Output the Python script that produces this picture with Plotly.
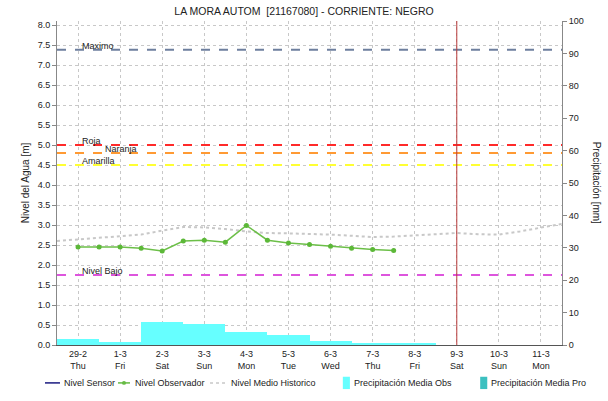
import plotly.graph_objects as go

FONT = "Liberation Sans"

# ---------------- data ----------------
day_dates = ["2024-02-29", "2024-03-01", "2024-03-02", "2024-03-03", "2024-03-04", "2024-03-05",
             "2024-03-06", "2024-03-07", "2024-03-08", "2024-03-09", "2024-03-10", "2024-03-11"]
day_labels = ["29-2", "1-3", "2-3", "3-3", "4-3", "5-3", "6-3", "7-3", "8-3", "9-3", "10-3", "11-3"]
weekday_labels = ["Thu", "Fri", "Sat", "Sun", "Mon", "Tue", "Wed", "Thu", "Fri", "Sat", "Sun", "Mon"]

obs_times = ["2024-02-29 00:00", "2024-02-29 12:00", "2024-03-01 00:00", "2024-03-01 12:00",
             "2024-03-02 00:00", "2024-03-02 12:00", "2024-03-03 00:00", "2024-03-03 12:00",
             "2024-03-04 00:00", "2024-03-04 12:00", "2024-03-05 00:00", "2024-03-05 12:00",
             "2024-03-06 00:00", "2024-03-06 12:00", "2024-03-07 00:00", "2024-03-07 12:00"]
obs_level = [2.45, 2.45, 2.45, 2.42, 2.35, 2.60, 2.62, 2.57, 2.99, 2.62, 2.55, 2.51,
             2.47, 2.42, 2.39, 2.36]

hist_times = ["2024-02-28 12:00", "2024-02-29 00:00", "2024-02-29 12:00", "2024-03-01 00:00",
              "2024-03-01 12:00", "2024-03-02 00:00", "2024-03-02 12:00", "2024-03-03 00:00",
              "2024-03-03 12:00", "2024-03-04 00:00", "2024-03-04 12:00", "2024-03-05 00:00",
              "2024-03-05 12:00", "2024-03-06 00:00", "2024-03-06 12:00", "2024-03-07 00:00",
              "2024-03-07 12:00", "2024-03-08 00:00", "2024-03-08 12:00", "2024-03-09 00:00",
              "2024-03-09 12:00", "2024-03-10 00:00", "2024-03-10 12:00", "2024-03-11 00:00",
              "2024-03-11 12:00"]
hist_level = [2.60, 2.64, 2.68, 2.72, 2.76, 2.86, 2.95, 2.94, 2.90, 2.84, 2.80, 2.79,
              2.78, 2.76, 2.73, 2.70, 2.71, 2.74, 2.77, 2.80, 2.77, 2.76, 2.84, 2.93, 3.03]

precip_dates = ["2024-02-29", "2024-03-01", "2024-03-02", "2024-03-03", "2024-03-04",
                "2024-03-05", "2024-03-06", "2024-03-07", "2024-03-08"]
precip_obs = [1.8, 0.8, 7.2, 6.6, 4.0, 3.2, 1.3, 0.7, 0.7]

threshold_names = ["Maximo", "Roja", "Naranja", "Amarilla", "Nivel Bajo"]
threshold_values = [7.38, 5.0, 4.8, 4.5, 1.75]
threshold_colors = ["#6E7F9E", "#FF2A2A", "#FF9A33", "#FFFF33", "#DD55DD"]
threshold_label_x = [0.045, 0.045, 0.092, 0.045, 0.045]

now_date = "2024-03-09"

legend_names = ["Nivel Sensor", "Nivel Observador", "Nivel Medio Historico",
                "Precipitación Media Obs", "Precipitación Media Pro"]
legend_colors = ["#1A1A80", "#66BB44", "#C8C8C8", "#66FFFF", "#3CC0C0"]

# ---------------- figure ----------------
fig = go.Figure()

fig.add_trace(go.Bar(
    x=precip_dates, y=precip_obs, yaxis="y2",
    width=86400000, marker=dict(color="#66FFFF", line=dict(width=0)),
    name="Precipitación Media Obs", showlegend=False,
))

fig.add_trace(go.Scatter(
    x=hist_times, y=hist_level, mode="lines",
    line=dict(color="#C8C8C8", width=2, dash="dot"),
    name="Nivel Medio Historico", showlegend=False,
))

fig.add_trace(go.Scatter(
    x=obs_times, y=obs_level, mode="lines+markers",
    line=dict(color="#6CBF48", width=1.5),
    marker=dict(color="#5CB838", size=5, symbol="circle"),
    name="Nivel Observador", showlegend=False,
))

shapes = []
annotations = []
for name, val, col, lx in zip(threshold_names, threshold_values, threshold_colors, threshold_label_x):
    shapes.append(dict(type="line", xref="paper", x0=0, x1=1, yref="y", y0=val, y1=val,
                       line=dict(color=col, width=2, dash="dash"), layer="above"))
    annotations.append(dict(xref="paper", x=lx, yref="y", y=val, text=name, showarrow=False,
                            xanchor="left", yanchor="bottom", yshift=-3,
                            font=dict(family=FONT, size=9, color="#222222")))

shapes.append(dict(type="line", xref="x", x0=now_date, x1=now_date, yref="paper", y0=0, y1=1,
                   line=dict(color="#B83A3A", width=1)))

# right axis title (reads top-to-bottom)
annotations.append(dict(xref="paper", x=1.07, yref="paper", y=0.5, text="Precipitación [mm]",
                        textangle=90, showarrow=False, xanchor="center", yanchor="middle",
                        font=dict(family=FONT, size=10, color="#222222")))

# manual legend (layout positions in paper coordinates)
leg_y = -0.117
leg_sym_x = [(-0.0238, 0.0059), (0.1208, 0.1446), (0.303, 0.335), (0.566, 0.580), (0.838, 0.852)]
leg_text_x = [0.010, 0.1505, 0.3406, 0.584, 0.856]
for i, (nm, col) in enumerate(zip(legend_names, legend_colors)):
    x0, x1 = leg_sym_x[i]
    if i == 0:
        shapes.append(dict(type="line", xref="paper", yref="paper", x0=x0, x1=x1, y0=leg_y, y1=leg_y,
                           line=dict(color=col, width=1.5)))
    elif i == 1:
        shapes.append(dict(type="line", xref="paper", yref="paper", x0=x0, x1=x1, y0=leg_y, y1=leg_y,
                           line=dict(color=col, width=1.5)))
        xm = (x0 + x1) / 2
        shapes.append(dict(type="circle", xref="paper", yref="paper",
                           x0=xm - 0.004, x1=xm + 0.004, y0=leg_y - 0.006, y1=leg_y + 0.006,
                           fillcolor=col, line=dict(color=col, width=0)))
    elif i == 2:
        shapes.append(dict(type="line", xref="paper", yref="paper", x0=x0, x1=x1, y0=leg_y, y1=leg_y,
                           line=dict(color=col, width=1.5, dash="dot")))
    else:
        shapes.append(dict(type="rect", xref="paper", yref="paper", x0=x0, x1=x1,
                           y0=leg_y - 0.019, y1=leg_y + 0.019,
                           fillcolor=col, line=dict(width=0)))
    annotations.append(dict(xref="paper", yref="paper", x=leg_text_x[i], y=leg_y, text=nm,
                            showarrow=False, xanchor="left", yanchor="middle",
                            font=dict(family=FONT, size=9, color="#222222")))

fig.update_layout(
    width=608, height=401,
    margin=dict(l=57, r=46, t=21, b=56, autoexpand=False),
    paper_bgcolor="white", plot_bgcolor="white",
    font=dict(family=FONT, size=9, color="#222222"),
    title=dict(text="LA MORA AUTOM  [21167080] - CORRIENTE: NEGRO", x=0.5, xanchor="center",
               y=0.982, yanchor="top", font=dict(family=FONT, size=10.5, color="#222222")),
    showlegend=False,
    bargap=0,
    xaxis=dict(
        type="date", range=["2024-02-28 12:00", "2024-03-11 12:00"],
        tickmode="array", tickvals=day_dates,
        ticktext=[f"{a}<br>{b}" for a, b in zip(day_labels, weekday_labels)],
        showgrid=True, gridcolor="#C8C8C8", griddash="dot", gridwidth=1,
        showline=True, linecolor="#555555", linewidth=1, mirror=False,
        ticks="", tickfont=dict(family=FONT, size=9, color="#222222"),
        zeroline=False,
    ),
    yaxis=dict(
        range=[0, 8.1], dtick=0.5, tickformat=".1f",
        showgrid=True, gridcolor="#C8C8C8", griddash="dot", gridwidth=1,
        showline=True, linecolor="#888888", linewidth=1, mirror=True,
        ticks="outside", ticklen=4, tickcolor="#888888",
        tickfont=dict(family=FONT, size=9, color="#222222"),
        title=dict(text="Nivel del Agua [m]", standoff=6, font=dict(family=FONT, size=10, color="#222222")),
        zeroline=False,
    ),
    yaxis2=dict(
        range=[0, 100], dtick=10, overlaying="y", side="right",
        showgrid=False, showline=True, linecolor="#888888", linewidth=1,
        ticks="outside", ticklen=4, tickcolor="#888888",
        tickfont=dict(family=FONT, size=9, color="#222222"),
        zeroline=False,
    ),
    shapes=shapes,
    annotations=annotations,
)

fig.write_html("out.html", config={"displayModeBar": False},
               post_script="document.body.style.margin='0';")
